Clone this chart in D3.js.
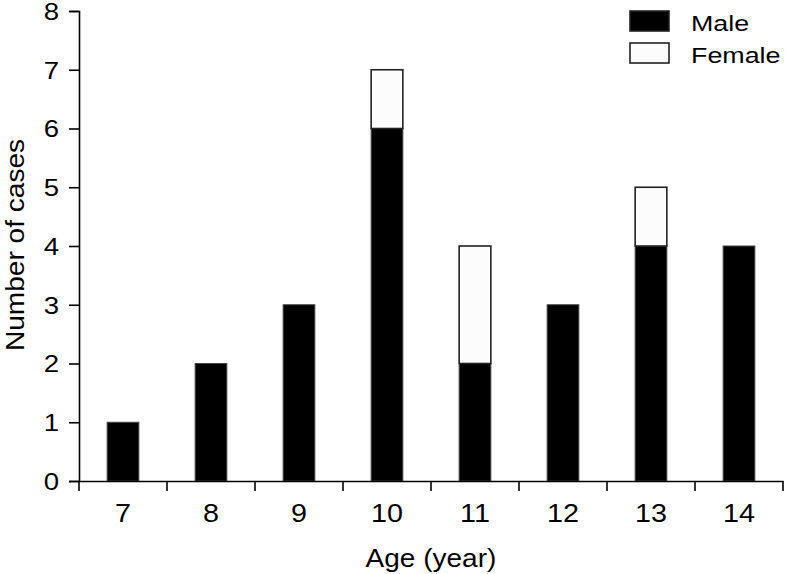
<!DOCTYPE html>
<html><head><meta charset="utf-8">
<script src="https://cdn.jsdelivr.net/npm/d3@7"></script>
<style>body{margin:0;background:#fff}svg{display:block}text{font-family:"Liberation Sans",Arial,sans-serif;fill:#000}</style>
</head><body><svg id="c" width="786" height="574"></svg>
<script>
const ages = ["7","8","9","10","11","12","13","14"];
const male = [1,2,3,6,2,3,4,4];
const female = [0,0,0,1,2,0,1,0];
const yTicks = [0,1,2,3,4,5,6,7,8];
const seriesNames = ["Male","Female"];

const svg = d3.select("#c");
const x = d3.scaleBand().domain(ages).range([79,783]).paddingInner(0.64).paddingOuter(0.32);
const y = d3.scaleLinear().domain([0,8]).range([481,11]);

const data = ages.map((a,i)=>({age:a, Male:male[i], Female:female[i]}));
const stack = d3.stack().keys(seriesNames)(data);
const fills = {Male:"#000", Female:"#fcfcfc"};
const strokes = {Male:"#444", Female:"#222"};

function stretch(sel, k){
  sel.each(function(){
    const w = this.getComputedTextLength();
    d3.select(this).attr("textLength", w*k).attr("lengthAdjust","spacingAndGlyphs");
  });
}

stack.forEach(s=>{
  svg.append("g").selectAll("rect").data(s.filter(d=>d[1]>d[0])).join("rect")
    .attr("x",d=>x(d.data.age)).attr("width",x.bandwidth())
    .attr("y",d=>y(d[1])).attr("height",d=>y(d[0])-y(d[1]))
    .attr("fill",fills[s.key]).attr("stroke",strokes[s.key])
    .attr("stroke-width",s.key==="Female"?1.6:1);
});

const yAxis = svg.append("g").attr("transform","translate(79,0)")
  .call(d3.axisLeft(y).tickValues(yTicks).tickSize(10).tickPadding(10).tickFormat(d3.format("d")));
yAxis.select(".domain").attr("stroke","#000").attr("stroke-width",1.6);
yAxis.selectAll(".tick line").attr("stroke","#000").attr("stroke-width",1.6);
yAxis.selectAll(".tick text").style("font-size","23px").style("font-family","Liberation Sans, Arial, sans-serif").attr("dy","0.36em");
stretch(yAxis.selectAll(".tick text"), 1.2);

const xAxis = svg.append("g").attr("transform","translate(0,481)")
  .call(d3.axisBottom(x).tickSize(0).tickPadding(23));
xAxis.select(".domain").attr("stroke","#000").attr("stroke-width",1.6);
xAxis.selectAll(".tick text").style("font-size","25px").style("font-family","Liberation Sans, Arial, sans-serif");
stretch(xAxis.selectAll(".tick text"), 1.15);
const step = x.step();
const bounds = d3.range(ages.length+1).map(i=>x.range()[0]+i*step);
xAxis.selectAll("line.b").data(bounds).join("line").attr("class","b")
  .attr("x1",d=>d).attr("x2",d=>d).attr("y1",0).attr("y2",10)
  .attr("stroke","#000").attr("stroke-width",1.6);

const xt = svg.append("text").attr("x",431).attr("y",567).attr("text-anchor","middle")
  .style("font-size","25px").text("Age (year)");
stretch(xt, 1.12);
const yt = svg.append("text").attr("transform","translate(24,245) rotate(-90)").attr("text-anchor","middle")
  .style("font-size","26px").text("Number of cases");
stretch(yt, 1.08);

const lg = svg.append("g");
seriesNames.forEach((k,i)=>{
  lg.append("rect").attr("x",630).attr("y",11+i*32).attr("width",39).attr("height",20)
    .attr("fill",fills[k]).attr("stroke","#222").attr("stroke-width",1.6);
  const t = lg.append("text").attr("x",691).attr("y",31+i*32).style("font-size","22px").text(k);
  stretch(t, 1.22);
});
</script></body></html>
